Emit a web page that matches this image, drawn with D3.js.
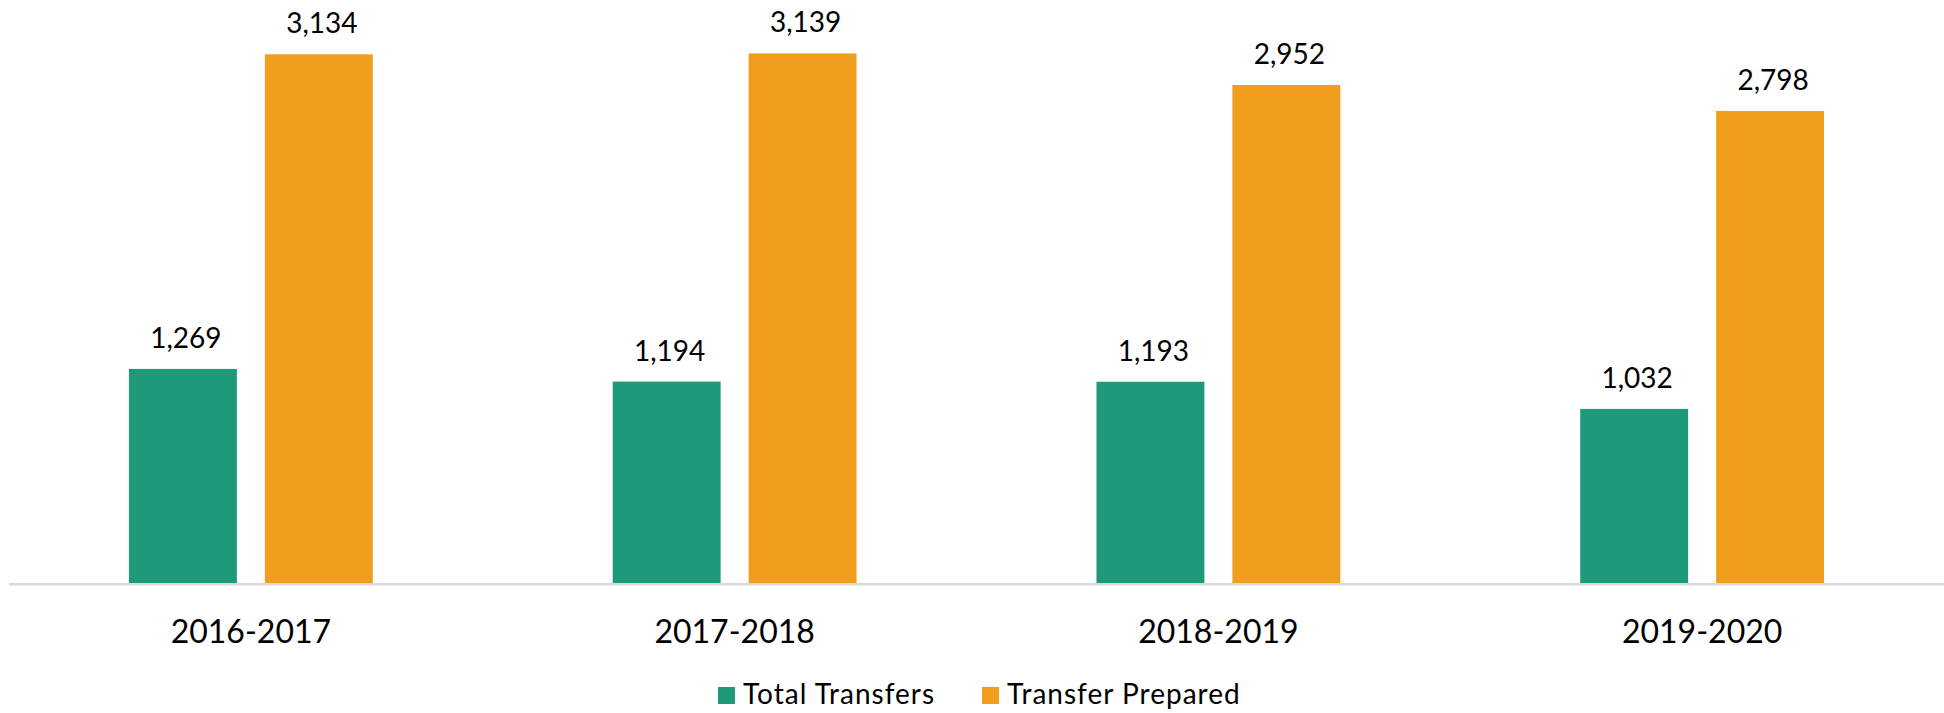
<!DOCTYPE html>
<html>
<head>
<meta charset="utf-8">
<script src="https://cdn.jsdelivr.net/npm/d3@7/dist/d3.min.js"></script>
<style>
  html, body { margin: 0; padding: 0; background: #fff; }
  svg { display: block; font-family: Lato, "Open Sans", "Noto Sans", sans-serif; }
</style>
</head>
<body>
<svg id="chart" width="1944" height="713"></svg>
<script>
// Fiscal years on the category axis
const years = ["2016-2017", "2017-2018", "2018-2019", "2019-2020"];
// Series names and colours
const seriesNames = ["Total Transfers", "Transfer Prepared"];
const seriesColors = ["#1E9A7A", "#F09E1C"];
// Values per series, one per year
const totalTransfers = [1269, 1194, 1193, 1032];
const transferPrepared = [3134, 3139, 2952, 2798];

const seriesValues = [totalTransfers, transferPrepared];
const rows = years.map((y, i) => ({
  year: y,
  values: seriesNames.map((s, j) => ({ series: s, idx: j, value: seriesValues[j][i] }))
}));

const W = 1944, H = 713;
const plot = { left: 9, right: 1944, baseline: 583 };

const svg = d3.select("#chart");
svg.append("rect").attr("width", W).attr("height", H).attr("fill", "#fff");

const x0 = d3.scaleBand()
  .domain(years)
  .range([plot.left, plot.right])
  .paddingInner(0.496)
  .paddingOuter(0.248);

const x1 = d3.scaleBand()
  .domain(seriesNames)
  .range([0, x0.bandwidth()])
  .paddingInner(0.206)
  .paddingOuter(0);

const y = d3.scaleLinear()
  .domain([0, 3500])
  .range([plot.baseline, plot.baseline - 3500 * 0.1687]);

const fmt = d3.format(",");

const groups = svg.append("g").selectAll("g")
  .data(rows)
  .join("g")
  .attr("transform", d => `translate(${x0(d.year)},0)`);

groups.selectAll("rect")
  .data(d => d.values)
  .join("rect")
  .attr("x", d => x1(d.series))
  .attr("y", d => y(d.value))
  .attr("width", x1.bandwidth())
  .attr("height", d => y(0) - y(d.value))
  .attr("fill", d => seriesColors[d.idx]);

groups.selectAll("text.val")
  .data(d => d.values)
  .join("text")
  .attr("class", "val")
  .attr("x", d => x1(d.series) + x1.bandwidth() / 2 + 3)
  .attr("y", d => y(d.value) - 21)
  .attr("text-anchor", "middle")
  .attr("font-size", 28)
  .attr("fill", "#000")
  .text(d => fmt(d.value));

// Category axis line
svg.append("line")
  .attr("x1", plot.left).attr("x2", plot.right)
  .attr("y1", plot.baseline + 1.3).attr("y2", plot.baseline + 1.3)
  .attr("stroke", "#d9d9d9").attr("stroke-width", 2.6);

// Category labels
const xAxis = d3.axisBottom(x0).tickSize(0).tickPadding(0);
const axisG = svg.append("g")
  .attr("transform", `translate(0,${plot.baseline})`)
  .call(xAxis);
axisG.select(".domain").remove();
axisG.selectAll("text")
  .attr("dy", 0)
  .attr("y", 60)
  .attr("font-family", "Lato, 'Open Sans', sans-serif")
  .attr("font-size", 32)
  .attr("fill", "#000");

// Legend
const legendX = [718, 982];
const legend = svg.append("g").selectAll("g")
  .data(seriesNames)
  .join("g")
  .attr("transform", (d, i) => `translate(${legendX[i]},0)`);
legend.append("rect")
  .attr("x", 0).attr("y", 687)
  .attr("width", 17).attr("height", 17)
  .attr("fill", (d, i) => seriesColors[i]);
legend.append("text")
  .attr("x", 25).attr("y", 704)
  .attr("font-size", 28)
  .attr("letter-spacing", 1)
  .attr("fill", "#000")
  .text(d => d);
</script>
</body>
</html>
